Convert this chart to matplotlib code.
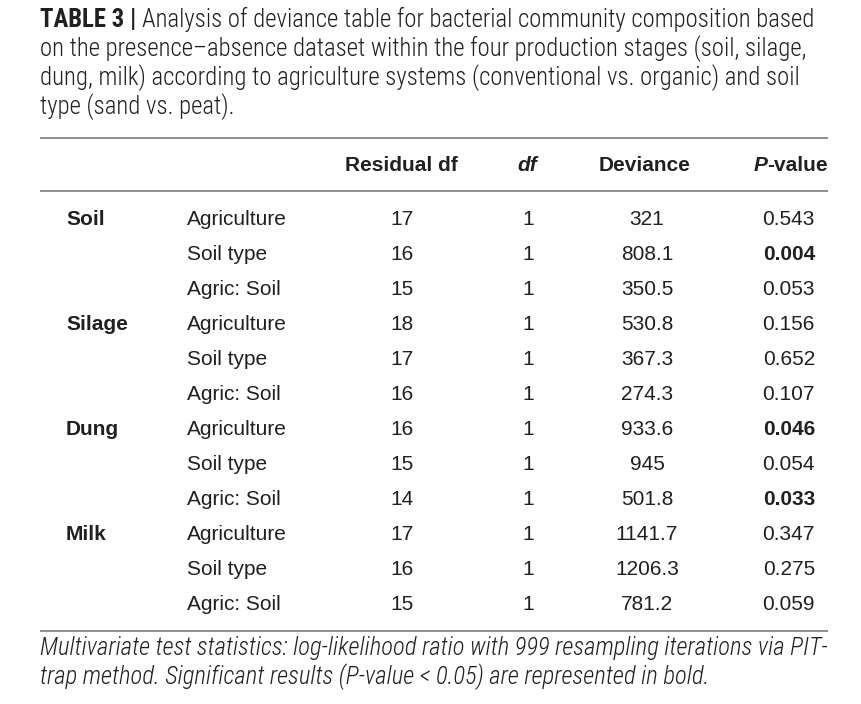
"""Recreate TABLE 3: analysis of deviance for bacterial community composition."""

import matplotlib

matplotlib.use("Agg")
import matplotlib.pyplot as plt


STAGES = ["Soil", "Silage", "Dung", "Milk"]
TERMS = ["Agriculture", "Soil type", "Agric: Soil"]

RESIDUAL_DF = [17, 16, 15, 18, 17, 16, 16, 15, 14, 17, 16, 15]
DF = [1, 1, 1, 1, 1, 1, 1, 1, 1, 1, 1, 1]
DEVIANCE = [321, 808.1, 350.5, 530.8, 367.3, 274.3,
            933.6, 945, 501.8, 1141.7, 1206.3, 781.2]
P_VALUES = [0.543, 0.004, 0.053, 0.156, 0.652, 0.107,
            0.046, 0.054, 0.033, 0.347, 0.275, 0.059]

TITLE_BOLD = "TABLE 3 | "
TITLE_LINES = [
    "Analysis of deviance table for bacterial community composition based",
    "on the presence\u2013absence dataset within the four production stages (soil, silage,",
    "dung, milk) according to agriculture systems (conventional vs. organic) and soil",
    "type (sand vs. peat).",
]
FOOTNOTE_LINES = [
    "Multivariate test statistics: log-likelihood ratio with 999 resampling iterations via PIT-",
    "trap method. Significant results (P-value < 0.05) are represented in bold.",
]

TEXT_COLOR = "#231f20"
RULE_COLOR = "#858585"
BODY_FONT = ["Liberation Sans", "DejaVu Sans"]
NARROW_FONT = ["Roboto Condensed", "DejaVu Sans"]

W, H = 862, 704


def main() -> None:
    fig = plt.figure(figsize=(W / 100, H / 100), dpi=100)
    ax = fig.add_axes([0, 0, 1, 1])
    ax.set_xlim(0, W)
    ax.set_ylim(H, 0)
    ax.axis("off")
    renderer = fig.canvas.get_renderer()

    def width_of(artist):
        return artist.get_window_extent(renderer=renderer).width

    # caption: size chosen so the first line spans the table width
    x0 = 40
    title_y = [27, 56, 85, 114]
    size = 15
    cap = dict(family=NARROW_FONT, color=TEXT_COLOR, va="baseline")
    bold = ax.text(x0, title_y[0], TITLE_BOLD, weight="bold", fontsize=size, **cap)
    rest = ax.text(x0 + width_of(bold), title_y[0], TITLE_LINES[0],
                   weight=300, fontsize=size, **cap)
    size *= 775 / (width_of(bold) + width_of(rest))
    bold.set_fontsize(size)
    rest.set_fontsize(size)
    rest.set_x(x0 + width_of(bold))
    for line, y in zip(TITLE_LINES[1:], title_y[1:]):
        ax.text(x0, y, line, weight=300, fontsize=size, **cap)

    # rules
    for y in (138, 191, 631):
        ax.hlines(y, 40, 828, color=RULE_COLOR, linewidth=1.3)

    # header
    header_y = 171
    kw = dict(family=BODY_FONT, fontsize=15, color=TEXT_COLOR,
              va="baseline", weight="bold")
    ax.text(401, header_y, "Residual df", ha="center", **kw)
    ax.text(527, header_y, "df", ha="center", style="italic", **kw)
    ax.text(645, header_y, "Deviance", ha="center", **kw)
    value = ax.text(828, header_y, "-value", ha="right", **kw)
    ax.text(828 - width_of(value), header_y, "P", ha="right", style="italic", **kw)

    # body
    body = dict(family=BODY_FONT, fontsize=15, color=TEXT_COLOR, va="baseline")
    for i in range(len(RESIDUAL_DF)):
        y = 225 + 35 * i
        if i % len(TERMS) == 0:
            ax.text(66, y, STAGES[i // len(TERMS)], ha="left",
                    weight="bold", **body)
        ax.text(187, y, TERMS[i % len(TERMS)], ha="left", **body)
        ax.text(402, y, str(RESIDUAL_DF[i]), ha="center", **body)
        ax.text(528, y, str(DF[i]), ha="center", **body)
        ax.text(647, y, f"{DEVIANCE[i]:g}", ha="center", **body)
        ax.text(815, y, f"{P_VALUES[i]:.3f}", ha="right",
                weight="bold" if P_VALUES[i] < 0.05 else "normal", **body)

    # footnote
    for line, y in zip(FOOTNOTE_LINES, (655, 684)):
        ax.text(x0, y, line, weight=300, fontsize=size, style="italic", **cap)

    fig.savefig("out.png", dpi=100, facecolor="white")
    plt.close(fig)


if __name__ == "__main__":
    main()
